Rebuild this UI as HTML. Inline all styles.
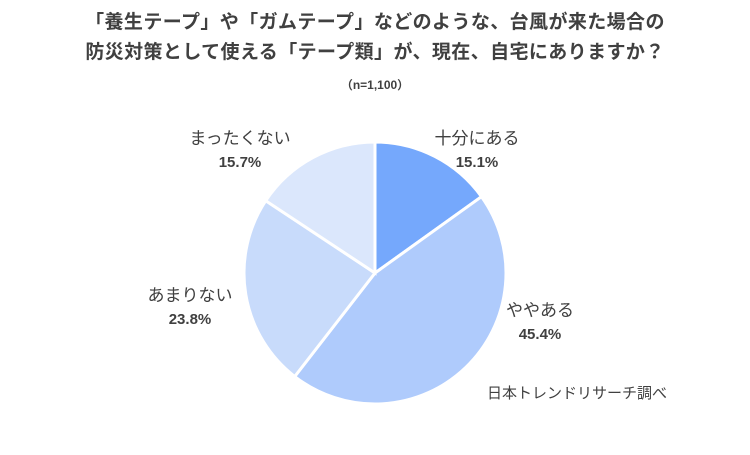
<!DOCTYPE html>
<html><head><meta charset="utf-8"><style>
body{margin:0;background:#fff;}
svg text{font-family:"Liberation Sans","Noto Sans CJK JP",sans-serif;fill:#404040;}
</style></head><body>
<svg width="750" height="450" viewBox="0 0 750 450">
<text x="375" y="28" text-anchor="middle" font-size="19" font-weight="bold" letter-spacing="0.4">「養生テープ」や「ガムテープ」などのような、台風が来た場合の</text>
<text x="375" y="58" text-anchor="middle" font-size="19" font-weight="bold" letter-spacing="0.4">防災対策として使える「テープ類」が、現在、自宅にありますか？</text>
<text x="375" y="89" text-anchor="middle" font-size="12" font-weight="bold">（n=1,100）</text>
<g id="slices"></g>
<g id="labels"></g>
<text x="487" y="398" font-size="15">日本トレンドリサーチ調べ</text>
</svg>
<script>
const categories=["十分にある","ややある","あまりない","まったくない"];
const values=[15.1,45.4,23.8,15.7];
const colors=["#75A8FC","#AFCBFC","#C8DBFB","#DBE7FC"];
const labelPos=[[477,144],[540,316],[190,301],[240,144]];
const cx=375,cy=273,r=131;
const ns="http://www.w3.org/2000/svg";
const total=values.reduce((a,b)=>a+b,0);
let a0=-Math.PI/2;
const g=document.getElementById('slices'),lg=document.getElementById('labels');
values.forEach((v,i)=>{
 const a1=a0+v/total*2*Math.PI;
 const x0=cx+r*Math.cos(a0),y0=cy+r*Math.sin(a0),x1=cx+r*Math.cos(a1),y1=cy+r*Math.sin(a1);
 const p=document.createElementNS(ns,'path');
 p.setAttribute('d',`M${cx},${cy}L${x0},${y0}A${r},${r} 0 ${a1-a0>Math.PI?1:0} 1 ${x1},${y1}Z`);
 p.setAttribute('fill',colors[i]);p.setAttribute('stroke','#fff');p.setAttribute('stroke-width','3');
 
 
 g.appendChild(p);
 const [lx,ly]=labelPos[i];
 const t1=document.createElementNS(ns,'text');
 t1.setAttribute('x',lx);t1.setAttribute('y',ly);t1.setAttribute('text-anchor','middle');t1.setAttribute('font-size','17');
 t1.textContent=categories[i];
 
 
 lg.appendChild(t1);
 const t2=document.createElementNS(ns,'text');
 t2.setAttribute('x',lx);t2.setAttribute('y',ly+23);t2.setAttribute('text-anchor','middle');t2.setAttribute('font-size','15');t2.setAttribute('font-weight','bold');
 t2.textContent=v.toFixed(1)+'%';
 
 
 lg.appendChild(t2);
 a0=a1;
});
</script>
</body></html>
